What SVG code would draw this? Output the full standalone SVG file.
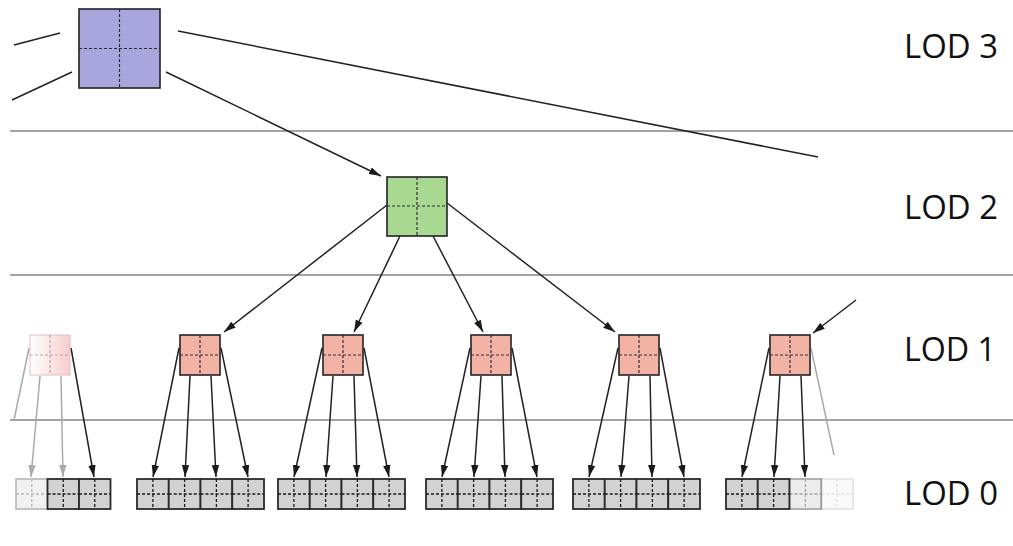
<svg xmlns="http://www.w3.org/2000/svg" width="1013" height="546" viewBox="0 0 1013 546">
<style>
.sep{stroke:#858585;stroke-width:1.3;fill:none}
.box{stroke:#222;stroke-width:1.6}
.cross{stroke:#2a2a3a;stroke-width:1.2;stroke-dasharray:3 2;fill:none}
.l3{fill:#a9a6de}
.l2{fill:#a9d890}
.l1{fill:#f3b3a4}
.l0{fill:#d2d2d2;stroke:#2a2a2a;stroke-width:1.8}
.c0{stroke:#1a1a1a;stroke-width:1.3;stroke-dasharray:3 2;fill:none}
.con{stroke:#222;stroke-width:1.5;fill:none}
.arr{marker-end:url(#ah)}
.faint{stroke:#aaaaaa}
.faintArr{marker-end:url(#ahg)}
.lbl{font-family:"Open Sans","Liberation Sans",sans-serif;font-size:33px;fill:#111}
</style>
<defs>
<marker id="ah" markerUnits="userSpaceOnUse" markerWidth="13" markerHeight="9" refX="12" refY="4.5" orient="auto">
<path d="M0,0.8 L12,4.5 L0,8.2 Z" fill="#1a1a1a"/>
</marker>
<marker id="ahg" markerUnits="userSpaceOnUse" markerWidth="13" markerHeight="9" refX="12" refY="4.5" orient="auto">
<path d="M0,0.8 L12,4.5 L0,8.2 Z" fill="#aaa"/>
</marker>
<linearGradient id="fadeL" x1="0" y1="0" x2="1" y2="0">
<stop offset="0" stop-color="#ffffff"/>
<stop offset="1" stop-color="#f4b8b8"/>
</linearGradient>
</defs>
<rect width="1013" height="546" fill="#ffffff"/>
<g id="separators">
<line class="sep" x1="10" y1="131" x2="1013" y2="131"/>
<line class="sep" x1="10" y1="275" x2="1013" y2="275"/>
<line class="sep" x1="10" y1="420" x2="1013" y2="420"/>
</g>
<g id="labels">
<text class="lbl" x="904" y="58" textLength="94" lengthAdjust="spacingAndGlyphs">LOD 3</text>
<text class="lbl" x="904" y="219" textLength="94" lengthAdjust="spacingAndGlyphs">LOD 2</text>
<text class="lbl" x="904" y="361" textLength="92" lengthAdjust="spacingAndGlyphs">LOD 1</text>
<text class="lbl" x="904" y="505" textLength="94" lengthAdjust="spacingAndGlyphs">LOD 0</text>
</g>
<g id="connectors">
<line class="con" x1="14" y1="45" x2="60" y2="33"/>
<line class="con" x1="12" y1="100" x2="72" y2="72"/>
<line class="con" x1="178" y1="31" x2="818" y2="157"/>
<line class="con arr" x1="166" y1="72" x2="381" y2="176"/>
<line class="con arr" x1="387" y1="205" x2="224" y2="332"/>
<line class="con arr" x1="400" y1="236" x2="354" y2="332"/>
<line class="con arr" x1="433" y1="236" x2="483" y2="332"/>
<line class="con arr" x1="447" y1="203" x2="615" y2="332"/>
<line class="con arr" x1="856" y1="300" x2="813" y2="333"/>
<line class="con faint" x1="29" y1="348" x2="14" y2="420"/>
<line class="con faint faintArr" x1="40" y1="376" x2="31" y2="477"/>
<line class="con faint faintArr" x1="61" y1="376" x2="63" y2="477"/>
<line class="con arr" x1="71" y1="348" x2="94" y2="477"/>
<line class="con arr" x1="179" y1="348" x2="153" y2="477"/>
<line class="con arr" x1="190" y1="376" x2="185" y2="477"/>
<line class="con arr" x1="211" y1="376" x2="216" y2="477"/>
<line class="con arr" x1="221" y1="348" x2="248" y2="477"/>
<line class="con arr" x1="322" y1="348" x2="294" y2="477"/>
<line class="con arr" x1="333" y1="376" x2="326" y2="477"/>
<line class="con arr" x1="354" y1="376" x2="357" y2="477"/>
<line class="con arr" x1="364" y1="348" x2="389" y2="477"/>
<line class="con arr" x1="470" y1="348" x2="442" y2="477"/>
<line class="con arr" x1="481" y1="376" x2="474" y2="477"/>
<line class="con arr" x1="502" y1="376" x2="505" y2="477"/>
<line class="con arr" x1="512" y1="348" x2="537" y2="477"/>
<line class="con arr" x1="618" y1="348" x2="589" y2="477"/>
<line class="con arr" x1="629" y1="376" x2="621" y2="477"/>
<line class="con arr" x1="650" y1="376" x2="652" y2="477"/>
<line class="con arr" x1="660" y1="348" x2="684" y2="477"/>
<line class="con arr" x1="769" y1="348" x2="742" y2="477"/>
<line class="con arr" x1="780" y1="376" x2="774" y2="477"/>
<line class="con arr" x1="801" y1="376" x2="805" y2="477"/>
<line class="con faint" x1="811" y1="348" x2="834" y2="455"/>
</g>
<g id="lod3">
<rect class="box l3" x="79" y="9" width="81" height="79"/>
<path class="cross" d="M119.5,9 V88 M79,48.5 H160"/>
</g>
<g id="lod2">
<rect class="box l2" x="387" y="177" width="60" height="59"/>
<path class="cross" d="M417,177 V236 M387,206 H447"/>
</g>
<g id="lod1-a" opacity="0.7">
<rect x="30" y="335" width="40" height="40" fill="url(#fadeL)" stroke="#d2a8a8" stroke-width="1"/>
<path class="cross" d="M50,335 V375 M30,355 H70" opacity="0.5"/>
</g>
<g id="lod1-b">
<rect class="box l1" x="180" y="335" width="40" height="40"/>
<path class="cross" d="M200,335 V375 M180,355 H220"/>
</g>
<g id="lod1-c">
<rect class="box l1" x="323" y="335" width="40" height="40"/>
<path class="cross" d="M343,335 V375 M323,355 H363"/>
</g>
<g id="lod1-d">
<rect class="box l1" x="471" y="335" width="40" height="40"/>
<path class="cross" d="M491,335 V375 M471,355 H511"/>
</g>
<g id="lod1-e">
<rect class="box l1" x="619" y="335" width="40" height="40"/>
<path class="cross" d="M639,335 V375 M619,355 H659"/>
</g>
<g id="lod1-f">
<rect class="box l1" x="770" y="335" width="40" height="40"/>
<path class="cross" d="M790,335 V375 M770,355 H810"/>
</g>
<g id="lod0-a">
<g opacity="0.3"><rect class="l0" x="16" y="479" width="31.5" height="30"/><path class="c0" d="M31.75,479 V509 M16,494 H47.5"/></g>
<rect class="l0" x="47.5" y="479" width="31.5" height="30"/><path class="c0" d="M63.25,479 V509 M47.5,494 H79"/>
<rect class="l0" x="79" y="479" width="31.5" height="30"/><path class="c0" d="M94.75,479 V509 M79,494 H110.5"/>
</g>
<g id="lod0-b">
<rect class="l0" x="137" y="479" width="31.75" height="30"/><path class="c0" d="M152.9,479 V509 M137,494 H168.75"/>
<rect class="l0" x="168.75" y="479" width="31.75" height="30"/><path class="c0" d="M184.6,479 V509 M168.75,494 H200.5"/>
<rect class="l0" x="200.5" y="479" width="31.75" height="30"/><path class="c0" d="M216.4,479 V509 M200.5,494 H232.25"/>
<rect class="l0" x="232.25" y="479" width="31.75" height="30"/><path class="c0" d="M248.1,479 V509 M232.25,494 H264"/>
</g>
<g id="lod0-c">
<rect class="l0" x="278" y="479" width="31.75" height="30"/><path class="c0" d="M293.9,479 V509 M278,494 H309.75"/>
<rect class="l0" x="309.75" y="479" width="31.75" height="30"/><path class="c0" d="M325.6,479 V509 M309.75,494 H341.5"/>
<rect class="l0" x="341.5" y="479" width="31.75" height="30"/><path class="c0" d="M357.4,479 V509 M341.5,494 H373.25"/>
<rect class="l0" x="373.25" y="479" width="31.75" height="30"/><path class="c0" d="M389.1,479 V509 M373.25,494 H405"/>
</g>
<g id="lod0-d">
<rect class="l0" x="426" y="479" width="31.75" height="30"/><path class="c0" d="M441.9,479 V509 M426,494 H457.75"/>
<rect class="l0" x="457.75" y="479" width="31.75" height="30"/><path class="c0" d="M473.6,479 V509 M457.75,494 H489.5"/>
<rect class="l0" x="489.5" y="479" width="31.75" height="30"/><path class="c0" d="M505.4,479 V509 M489.5,494 H521.25"/>
<rect class="l0" x="521.25" y="479" width="31.75" height="30"/><path class="c0" d="M537.1,479 V509 M521.25,494 H553"/>
</g>
<g id="lod0-e">
<rect class="l0" x="573" y="479" width="31.75" height="30"/><path class="c0" d="M588.9,479 V509 M573,494 H604.75"/>
<rect class="l0" x="604.75" y="479" width="31.75" height="30"/><path class="c0" d="M620.6,479 V509 M604.75,494 H636.5"/>
<rect class="l0" x="636.5" y="479" width="31.75" height="30"/><path class="c0" d="M652.4,479 V509 M636.5,494 H668.25"/>
<rect class="l0" x="668.25" y="479" width="31.75" height="30"/><path class="c0" d="M684.1,479 V509 M668.25,494 H700"/>
</g>
<g id="lod0-f">
<rect class="l0" x="726" y="479" width="31.75" height="30"/><path class="c0" d="M741.9,479 V509 M726,494 H757.75"/>
<rect class="l0" x="757.75" y="479" width="31.75" height="30"/><path class="c0" d="M773.6,479 V509 M757.75,494 H789.5"/>
<g opacity="0.4"><rect class="l0" x="789.5" y="479" width="31.75" height="30"/><path class="c0" d="M805.4,479 V509 M789.5,494 H821.25"/></g>
<g opacity="0.12"><rect class="l0" x="821.25" y="479" width="31.75" height="30"/><path class="c0" d="M837.1,479 V509 M821.25,494 H853"/></g>
</g>
</svg>
